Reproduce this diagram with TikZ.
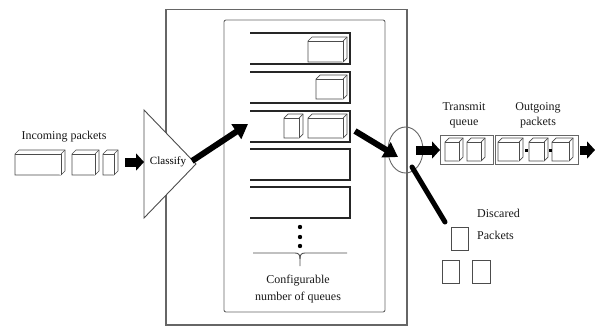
\documentclass[tikz,border=0pt]{standalone}
\usepackage{fontspec}
\setmainfont{Liberation Serif}
\usetikzlibrary{arrows.meta,shapes.geometric}
\newcommand\pkt[4]{%
  \filldraw[pktline] (#1,{#2+4}) -- ({#1+4},#2) -- ({#1+#3},#2) -- ({#1+#3},{#2+#4-4}) -- ({#1+#3-4},{#2+#4}) -- (#1,{#2+#4}) -- cycle;
  \draw[pktline] (#1,{#2+4}) -- ({#1+#3-4},{#2+4}) -- ({#1+#3-4},{#2+#4});
  \draw[pktline] ({#1+#3-4},{#2+4}) -- ({#1+#3},#2);
}
\newcommand\qbarpath[2]{%
  \draw[qbar] (250,#1) -- (350,#1) -- (350,#2) -- (250,#2);
}
\begin{document}
\begin{tikzpicture}[x=1pt,y=-1pt,
  lbl/.style={font=\fontsize{12}{15}\selectfont, align=center, inner sep=0pt, text=black!90},
  frame/.style={draw=black!60, line width=1.1pt},
  inner/.style={draw=black!60, line width=0.9pt, rounded corners=2pt},
  qbar/.style={draw=black!85, line width=1.8pt},
  pktline/.style={draw=black!70, line width=0.7pt, fill=white},
  thinbox/.style={draw=black!60, line width=0.8pt},
  bigarrow/.style={line width=6pt, -{Triangle[length=14pt,width=17pt]}},
  blockarrow/.style={line width=9pt, -{Triangle[length=8pt,width=17pt]}},
  dsq/.style={draw=black!70, line width=1pt},
]
\useasboundingbox (0,0) rectangle (595,327);

% frames
\draw[frame] (166,9.5) rectangle (407,325);
\draw[inner] (224,20) rectangle (385,312);

% incoming
\node[lbl] (inlbl) at (64,137) {Incoming packets};
\pkt{15}{150}{50}{25}
\pkt{72}{150}{27}{25}
\pkt{103}{150}{15}{25}

% classify
\coordinate (tA) at (144,110);
\coordinate (tB) at (144,218);
\coordinate (tip) at (196,164);
\draw[draw=black!70, line width=0.9pt, fill=white] (tA) -- (tip) -- (tB) -- cycle;
\node[font=\fontsize{11}{13}\selectfont, inner sep=0pt] (classify) at (168,162) {Classify};
\coordinate (inA) at (125,162);
\coordinate (inB) at (144,162);
\draw[blockarrow] (inA) -- (inB);

% queues
\qbarpath{33}{64}
\qbarpath{72}{103}
\qbarpath{111}{142}
\qbarpath{149}{180}
\qbarpath{187}{218}
\pkt{308}{37}{39}{25}
\pkt{316}{75}{31}{24}
\pkt{284}{114}{19}{24}
\pkt{308}{114}{39}{24}

\coordinate (cA) at (192,161);
\coordinate (cB) at (248,124);
\draw[bigarrow] (cA) -- (cB);

% dots and brace
\fill (300,227) circle (2.2);
\fill (300,237) circle (2.2);
\fill (300,246) circle (2.2);
\draw[black!70, line width=0.9pt] (253,253) -- (295,253) .. controls (299,253) and (300,255) .. (300,259) -- (300,266);
\draw[black!70, line width=0.9pt] (347,253) -- (305,253) .. controls (301,253) and (300,255) .. (300,259);
\node[lbl, font=\fontsize{12}{17}\selectfont] (cfg) at (298,289) {Configurable\\number of queues};

% merge ellipse
\node[ellipse, draw=black!60, line width=0.9pt, minimum width=35pt, minimum height=46pt, inner sep=0pt] (merge) at (405.5,150) {};
\coordinate (qA) at (355,131);
\coordinate (qB) at (398,157);
\draw[bigarrow] (qA) -- (qB);
\coordinate (dA) at (412,167);
\coordinate (dB) at (445,222);
\draw[line width=5pt, line cap=round] (dA) -- (dB);

% transmit and outgoing
\node[lbl] (tlbl) at (464,115) {Transmit\\queue};
\node[lbl] (olbl) at (538,115) {Outgoing\\packets};
\draw[thinbox] (440,135) rectangle (493,164);
\draw[thinbox] (495,135) rectangle (578,164);
\pkt{445}{138}{18}{23}
\pkt{467}{138}{18}{23}
\pkt{498}{138}{25}{23}
\pkt{529}{138}{19}{23}
\pkt{552}{138}{21}{23}
\fill (524.5,148.5) rectangle (527.5,151.5);
\fill (548.5,148.5) rectangle (551.5,151.5);
\coordinate (mA) at (416,150);
\coordinate (mB) at (440,150);
\draw[blockarrow] (mA) -- (mB);
\coordinate (oA) at (580,150);
\coordinate (oB) at (595,150);
\draw[blockarrow] (oA) -- (oB);

% discarded
\node[lbl, align=left, anchor=west, font=\fontsize{12}{22}\selectfont] (dlbl) at (477,224) {Discared\\Packets};
\draw[dsq] (451,227) rectangle (468,250);
\draw[dsq] (442,260) rectangle (459,283);
\draw[dsq] (472,260) rectangle (490,283);
\end{tikzpicture}
\end{document}
